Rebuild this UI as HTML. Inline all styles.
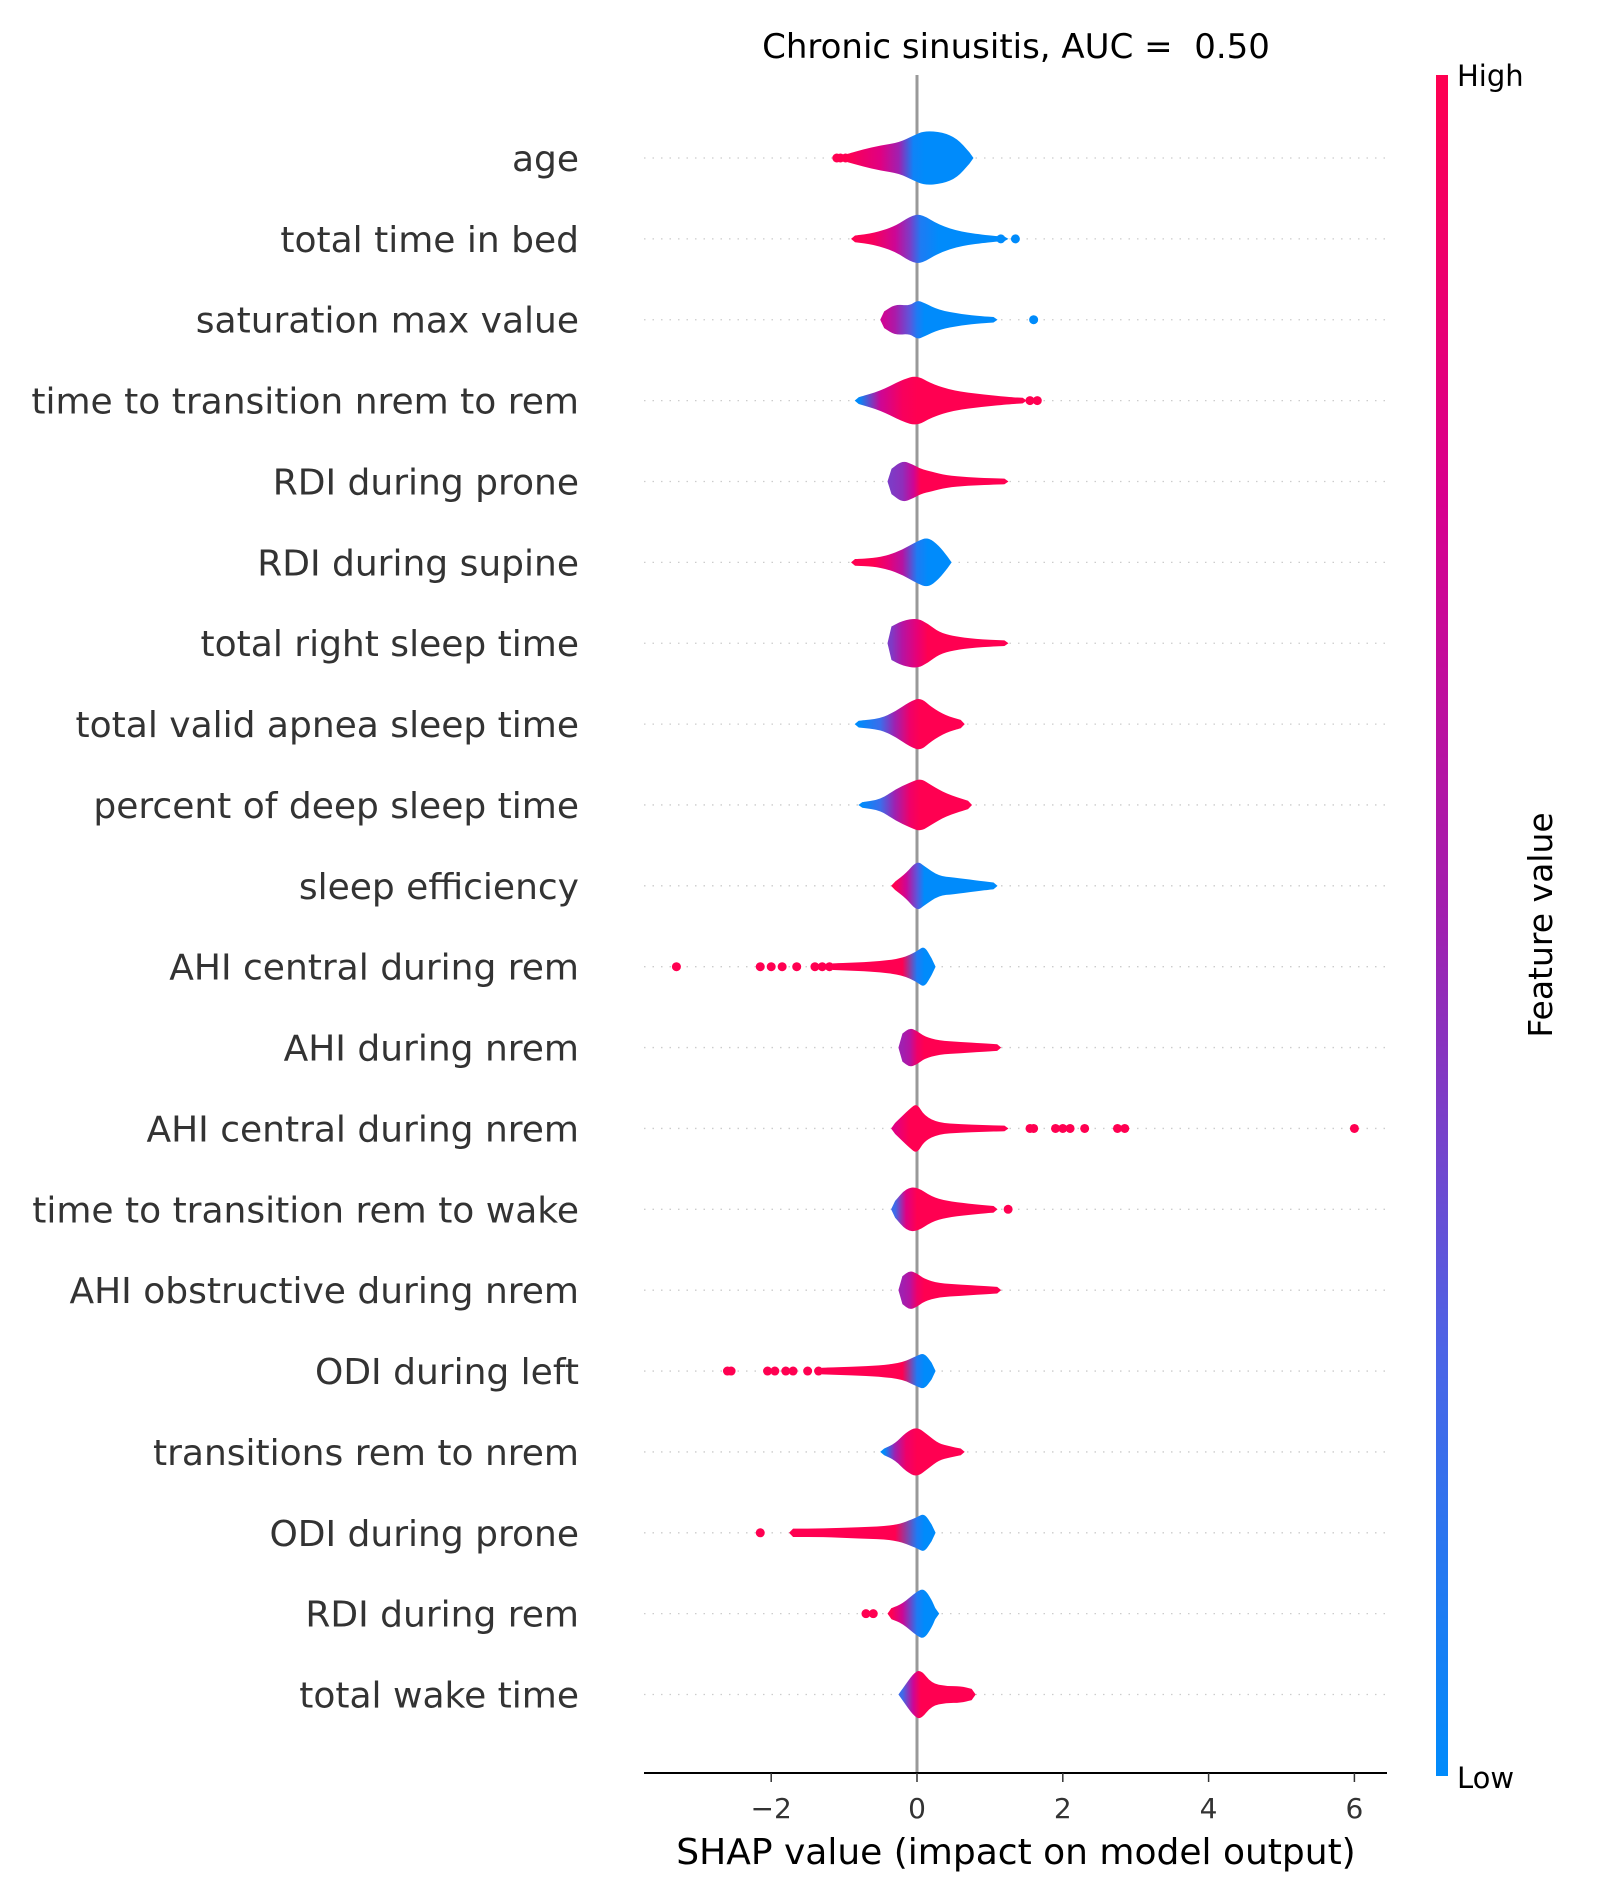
<!DOCTYPE html>
<html><head><meta charset="utf-8">
<style>
html,body{margin:0;padding:0;background:#fff;}
svg{display:block;font-family:"DejaVu Sans","Liberation Sans",sans-serif;}
</style></head>
<body>
<svg id="chart" width="1600" height="1900" viewBox="0 0 1600 1900" xmlns="http://www.w3.org/2000/svg">
<defs>
<linearGradient id="cbar" x1="0" y1="1" x2="0" y2="0">
<stop offset="0" stop-color="#008bfb"/><stop offset="0.25" stop-color="#4c64e6"/><stop offset="0.5" stop-color="#a020b0"/><stop offset="0.75" stop-color="#d8008e"/><stop offset="1" stop-color="#ff0051"/>
</linearGradient>
</defs>
<g id="grid"></g>
<g id="violins"></g>
<text x="1016" y="58" font-size="34" text-anchor="middle" fill="#000">Chronic sinusitis, AUC =&#160; 0.50</text>
<rect x="1436" y="75" width="12" height="1701" fill="url(#cbar)"/>
<text x="1457" y="86" font-size="29" fill="#000">High</text>
<text x="1457" y="1788" font-size="29" fill="#000">Low</text>
<text transform="translate(1552,925) rotate(-90)" font-size="33" text-anchor="middle" fill="#000">Feature value</text>
<line x1="644" y1="1773" x2="1387" y2="1773" stroke="#000" stroke-width="2"/>
<g id="ticks"></g>
<text x="1016" y="1864" font-size="36" text-anchor="middle" fill="#000">SHAP value (impact on model output)</text>
</svg>
<script>
const features=["age","total time in bed","saturation max value","time to transition nrem to rem","RDI during prone","RDI during supine","total right sleep time","total valid apnea sleep time","percent of deep sleep time","sleep efficiency","AHI central during rem","AHI during nrem","AHI central during nrem","time to transition rem to wake","AHI obstructive during nrem","ODI during left","transitions rem to nrem","ODI during prone","RDI during rem","total wake time"];
const shapKnots=[
[-0.95,-0.75,-0.5,-0.25,-0.05,0.1,0.35,0.55,0.72],
[-0.85,-0.6,-0.3,-0.1,0.05,0.3,0.6,1.0,1.2],
[-0.45,-0.3,-0.1,0.0,0.1,0.3,0.6,0.9,1.05],
[-0.8,-0.5,-0.2,0,0.2,0.5,0.9,1.3,1.45],
[-0.35,-0.2,-0.05,0.05,0.2,0.4,0.7,1.0,1.2],
[-0.85,-0.6,-0.4,-0.2,0,0.15,0.3,0.42],
[-0.35,-0.2,0,0.15,0.3,0.5,0.8,1.2],
[-0.8,-0.5,-0.3,-0.1,0.05,0.2,0.4,0.6],
[-0.75,-0.5,-0.3,-0.1,0.05,0.2,0.4,0.7],
[-0.3,-0.15,0,0.1,0.3,0.5,0.8,1.05],
[-1.15,-0.8,-0.5,-0.2,0,0.1,0.2],
[-0.2,-0.1,0,0.1,0.3,0.6,0.9,1.1],
[-0.3,-0.1,0,0.1,0.3,0.6,0.9,1.2],
[-0.3,-0.15,0,0.2,0.4,0.7,1.05],
[-0.2,-0.1,0,0.1,0.3,0.6,0.9,1.1],
[-1.3,-0.9,-0.5,-0.2,0,0.1,0.2],
[-0.45,-0.3,-0.15,0,0.15,0.3,0.45,0.6],
[-1.7,-1.3,-0.8,-0.3,0,0.1,0.2],
[-0.35,-0.2,0,0.1,0.2,0.25],
[-0.2,-0.05,0.05,0.2,0.4,0.6,0.75]];
const densities=[
[0.15,0.3,0.45,0.55,0.8,0.97,0.92,0.7,0.2],
[0.12,0.2,0.45,0.8,0.9,0.5,0.25,0.12,0.08],
[0.3,0.55,0.5,0.7,0.6,0.35,0.2,0.12,0.1],
[0.12,0.35,0.75,0.9,0.6,0.35,0.22,0.12,0.1],
[0.45,0.75,0.6,0.45,0.35,0.22,0.15,0.12,0.1],
[0.12,0.15,0.25,0.45,0.75,0.9,0.6,0.2],
[0.6,0.8,0.9,0.7,0.4,0.25,0.15,0.1],
[0.12,0.2,0.45,0.8,0.95,0.6,0.3,0.15],
[0.1,0.2,0.55,0.8,0.95,0.7,0.4,0.15],
[0.15,0.45,0.9,0.7,0.35,0.3,0.2,0.12],
[0.12,0.15,0.2,0.3,0.55,0.75,0.3],
[0.5,0.7,0.6,0.4,0.25,0.2,0.15,0.12],
[0.2,0.7,0.9,0.45,0.2,0.15,0.12,0.1],
[0.3,0.75,0.8,0.45,0.3,0.2,0.12],
[0.5,0.7,0.6,0.4,0.25,0.2,0.15,0.12],
[0.12,0.15,0.2,0.3,0.55,0.65,0.3],
[0.12,0.3,0.7,0.9,0.6,0.3,0.2,0.12],
[0.15,0.15,0.2,0.25,0.55,0.7,0.3],
[0.2,0.35,0.8,0.9,0.5,0.2],
[0.2,0.75,0.9,0.4,0.3,0.3,0.2]];
const featureValues=[
[1,0.9,0.8,0.5,0.05,0,0,0,0],
[1,0.95,0.7,0.4,0.1,0,0,0,0],
[0.7,0.55,0.3,0.1,0,0,0,0,0],
[0,0.7,0.95,1,1,1,1,1,1],
[0.4,0.45,0.7,1,1,1,1,1,1],
[1,1,0.85,0.6,0.1,0,0,0],
[0.4,0.6,0.85,1,1,1,1,1],
[0,0.2,0.5,0.9,1,1,1,1],
[0,0.2,0.5,0.9,1,1,1,1],
[1,0.7,0.3,0,0,0,0,0],
[1,1,1,1,0.1,0,0],
[0.5,0.6,0.9,1,1,1,1,1],
[0.8,1,1,1,1,1,1,1],
[0.2,0.8,1,1,1,1,1],
[0.5,0.6,0.9,1,1,1,1,1],
[1,1,1,1,0.1,0,0],
[0,0.5,0.9,1,1,1,1,1],
[1,1,1,1,0.1,0,0],
[1,0.7,0.1,0,0,0],
[0.2,0.7,1,1,1,1,1]];
const outlierValues=[[-1.1,-1.05,-0.98],[1.15,1.35],[1.6],[1.55,1.65],[],[],[],[],[],[],[-3.3,-2.15,-2.0,-1.85,-1.65,-1.4,-1.3,-1.2],[],[1.55,1.6,1.9,2.0,2.1,2.3,2.75,2.85,6.0],[1.25],[],[-2.6,-2.55,-2.05,-1.95,-1.8,-1.7,-1.5,-1.35],[],[-2.15],[-0.7,-0.6],[]];
const outlierColors=[[1,1,1],[0,0],[0],[1,1],[],[],[],[],[],[],[1,1,1,1,1,1,1,1],[],[1,1,1,1,1,1,1,1,1],[1],[],[1,1,1,1,1,1,1,1],[],[1],[1,1],[]];
const xTicks=[-2,0,2,4,6];
const xTickLabels=["\u22122","0","2","4","6"];

const NS="http://www.w3.org/2000/svg";
const X0=917,XS=72.9,Y0=158,YS=80.87,HMAX=28;
function xScale(v){return X0+v*XS;}
function yScale(i){return Y0+i*YS;}
function colorOf(t){
 const st=[[0,[0,139,251]],[0.25,[76,100,230]],[0.5,[160,32,176]],[0.75,[216,0,142]],[1,[255,0,81]]];
 for(let i=1;i<st.length;i++){if(t<=st[i][0]){const a=st[i-1],b=st[i],f=(t-a[0])/(b[0]-a[0]);return 'rgb('+a[1].map((c,k)=>Math.round(c+(b[1][k]-c)*f)).join(',')+')';}}
 return 'rgb(255,0,81)';
}
const svg=document.getElementById('chart');
const defs=svg.querySelector('defs');
const grid=document.getElementById('grid');
const vg=document.getElementById('violins');
const zl=document.createElementNS(NS,'line');
zl.setAttribute('x1',xScale(0));zl.setAttribute('x2',xScale(0));zl.setAttribute('y1',75);zl.setAttribute('y2',1773);
zl.setAttribute('stroke','#999');zl.setAttribute('stroke-width','3');


grid.appendChild(zl);

features.forEach((name,i)=>{
 const y=yScale(i);
 const gl=document.createElementNS(NS,'line');
 gl.setAttribute('x1',644);gl.setAttribute('x2',1387);gl.setAttribute('y1',y);gl.setAttribute('y2',y);
 gl.setAttribute('stroke','#ccc');gl.setAttribute('stroke-width','1.3');gl.setAttribute('stroke-dasharray','1.5 7');
 
 
 grid.appendChild(gl);
 const lb=document.createElementNS(NS,'text');
 lb.setAttribute('x',579);lb.setAttribute('y',y+13);lb.setAttribute('text-anchor','end');lb.setAttribute('font-size','36');lb.setAttribute('fill','#333');
 lb.textContent=name;
 
 
 svg.appendChild(lb);
 const xs=shapKnots[i],ws=densities[i],cs=featureValues[i];
 const gid='g'+i;
 const lg=document.createElementNS(NS,'linearGradient');
 lg.setAttribute('id',gid);lg.setAttribute('gradientUnits','userSpaceOnUse');
 lg.setAttribute('x1',xScale(xs[0]));lg.setAttribute('x2',xScale(xs[xs.length-1]));lg.setAttribute('y1',0);lg.setAttribute('y2',0);
 const span=xs[xs.length-1]-xs[0];
 xs.forEach((v,k)=>{const s=document.createElementNS(NS,'stop');s.setAttribute('offset',(v-xs[0])/span);s.setAttribute('stop-color',colorOf(cs[k]));lg.appendChild(s);});
 defs.appendChild(lg);
 const top=xs.map((v,k)=>[xScale(v),y-ws[k]*HMAX]);
 const bot=xs.map((v,k)=>[xScale(v),y+ws[k]*HMAX]).reverse();
 function smooth(pts){let d='';for(let k=0;k<pts.length-1;k++){const m=[(pts[k][0]+pts[k+1][0])/2,(pts[k][1]+pts[k+1][1])/2];d+=' Q'+pts[k][0]+','+pts[k][1]+' '+m[0]+','+m[1];}d+=' L'+pts[pts.length-1][0]+','+pts[pts.length-1][1];return d;}
 const x0=xScale(xs[0]),xe=xScale(xs[xs.length-1]);
 let d='M'+(x0-4)+','+y+' L'+top[0][0]+','+top[0][1]+smooth(top)+' L'+(xe+4)+','+y+' L'+bot[0][0]+','+bot[0][1]+smooth(bot)+' Z';
 const p=document.createElementNS(NS,'path');
 p.setAttribute('d',d);p.setAttribute('fill','url(#'+gid+')');
 
 
 vg.appendChild(p);
 outlierValues[i].forEach((v,k)=>{
  const c=document.createElementNS(NS,'circle');
  c.setAttribute('cx',xScale(v));c.setAttribute('cy',y);c.setAttribute('r',4.5);c.setAttribute('fill',colorOf(outlierColors[i][k]));
  
  
  vg.appendChild(c);
 });
});
const tg=document.getElementById('ticks');
xTicks.forEach((t,k)=>{
 const l=document.createElementNS(NS,'line');
 l.setAttribute('x1',xScale(t));l.setAttribute('x2',xScale(t));l.setAttribute('y1',1773);l.setAttribute('y2',1782);l.setAttribute('stroke','#333');l.setAttribute('stroke-width','1.5');
 
 
 tg.appendChild(l);
 const tx=document.createElementNS(NS,'text');
 tx.setAttribute('x',xScale(t));tx.setAttribute('y',1818);tx.setAttribute('text-anchor','middle');tx.setAttribute('font-size','28');tx.setAttribute('fill','#333');
 tx.textContent=xTickLabels[k];
 
 
 tg.appendChild(tx);
});
</script>
</body></html>
